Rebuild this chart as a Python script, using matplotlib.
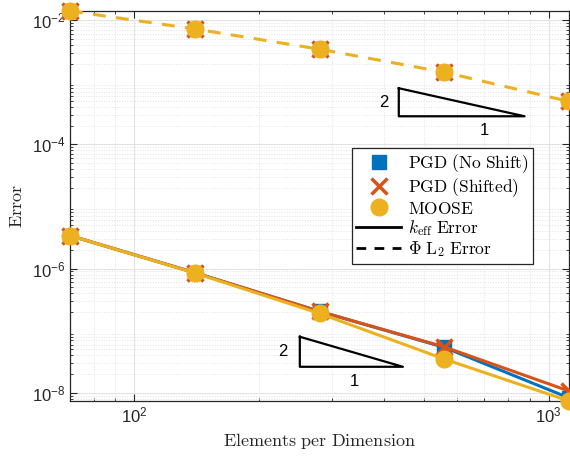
import matplotlib
matplotlib.use("Agg")
import matplotlib.pyplot as plt
from matplotlib.lines import Line2D
from matplotlib.ticker import LogLocator, NullFormatter

plt.rcParams["font.family"] = ["Liberation Sans", "DejaVu Sans"]
plt.rcParams["mathtext.fontset"] = "cm"

# Values.
elements = [70, 140, 280, 560, 1120]
keff_no_shift = [3.4e-6, 8.6e-7, 2.05e-7, 5.4e-8, 8.3e-9]
keff_shifted = [3.4e-6, 8.6e-7, 2.05e-7, 5.5e-8, 1.07e-8]
keff_moose = [3.4e-6, 8.5e-7, 1.9e-7, 3.5e-8, 7.4e-9]
phi_no_shift = [1.4e-2, 7.2e-3, 3.4e-3, 1.45e-3, 4.9e-4]
phi_shifted = [1.4e-2, 7.2e-3, 3.4e-3, 1.45e-3, 4.9e-4]
phi_moose = [1.4e-2, 7.2e-3, 3.4e-3, 1.45e-3, 4.9e-4]

blue = "#0072BD"
orange = "#D95319"
yellow = "#EDB120"
axis_col = "#262626"

fig = plt.figure(figsize=(5.7, 4.59), dpi=100)
ax = fig.add_axes([70 / 570, 1 - 401 / 459, 499 / 570, 390 / 459])

lw = 2.2
dash = (0, (4.2, 3.4))

# solid lines: k_eff error
ax.plot(elements, keff_no_shift, "-s", color=blue, lw=lw, ms=10, clip_on=False, zorder=3)
ax.plot(elements, keff_shifted, "-x", color=orange, lw=lw, ms=11, mew=2.5, clip_on=False, zorder=3)
ax.plot(elements, keff_moose, "-o", color=yellow, lw=lw, ms=12, clip_on=False, zorder=3)

# dashed lines: flux L2 error (all three coincide)
ax.plot(elements, phi_no_shift, marker="s", ls="none", color=blue, ms=10, clip_on=False, zorder=3)
ax.plot(elements, phi_shifted, marker="x", ls="none", color=orange, ms=11, mew=2.5, clip_on=False, zorder=3)
ax.plot(elements, phi_moose, color=yellow, ls=dash, lw=lw, zorder=3)
ax.plot(elements, phi_moose, marker="o", ls="none", color=yellow, ms=12, clip_on=False, zorder=4)

ax.set_xscale("log")
ax.set_yscale("log")
ax.set_xlim(min(elements), max(elements))
ax.set_ylim(min(keff_moose), max(phi_moose))

ax.xaxis.set_minor_locator(LogLocator(base=10, subs=range(2, 10), numticks=20))
ax.xaxis.set_minor_formatter(NullFormatter())
ax.yaxis.set_major_locator(LogLocator(base=10, subs=[1.0], numticks=20))
ax.yaxis.set_minor_locator(LogLocator(base=10, subs=range(2, 10), numticks=20))
ax.yaxis.set_minor_formatter(NullFormatter())
ax.set_yticks([1e-8, 1e-6, 1e-4, 1e-2])

ax.grid(True, which="major", color="#e2e2e2", lw=0.8, ls="-")
ax.grid(True, which="minor", color="#e2e2e2", lw=0.7, ls=":")
ax.set_axisbelow(True)

ax.tick_params(which="both", direction="in", top=True, right=True, colors=axis_col,
               labelsize=12)
ax.tick_params(which="major", length=5)
ax.tick_params(which="minor", length=2.5)
for s in ax.spines.values():
    s.set_color(axis_col)
    s.set_linewidth(0.9)

ax.set_xlabel(r"$\mathrm{Elements\ per\ Dimension}$", fontsize=13, color=axis_col, labelpad=4)
ax.set_ylabel(r"$\mathrm{Error}$", fontsize=13, color=axis_col, labelpad=4)

# slope triangles
tri_upper_x = [435, 435, 875, 435]
tri_upper_y = [8.0e-4, 2.83e-4, 2.83e-4, 8.0e-4]
tri_lower_x = [251, 251, 445, 251]
tri_lower_y = [8.0e-8, 2.63e-8, 2.63e-8, 8.0e-8]
ax.plot(tri_upper_x, tri_upper_y, color="black", lw=1.6, zorder=2)
ax.plot(tri_lower_x, tri_lower_y, color="black", lw=1.6, zorder=2)
ax.text(400, 4.7e-4, "2", fontsize=12, ha="center", va="center")
ax.text(700, 1.7e-4, "1", fontsize=12, ha="center", va="center")
ax.text(228, 4.6e-8, "2", fontsize=12, ha="center", va="center")
ax.text(340, 1.55e-8, "1", fontsize=12, ha="center", va="center")

handles = [
    Line2D([], [], ls="none", marker="s", color=blue, ms=10),
    Line2D([], [], ls="none", marker="x", color=orange, ms=11, mew=2.5),
    Line2D([], [], ls="none", marker="o", color=yellow, ms=12),
    Line2D([], [], ls="-", color="black", lw=2),
    Line2D([], [], ls=(0, (3.5, 3.0)), color="black", lw=2),
]
labels = [
    r"$\mathrm{PGD\ (No\ Shift)}$",
    r"$\mathrm{PGD\ (Shifted)}$",
    r"$\mathrm{MOOSE}$",
    r"$k_{\mathrm{eff}}\ \mathrm{Error}$",
    r"$\Phi\ \mathrm{L}_2\ \mathrm{Error}$",
]
leg = ax.legend(handles, labels, loc="upper left",
                bbox_to_anchor=(352 / 570, 1 - 148 / 459),
                bbox_transform=fig.transFigure,
                fontsize=12.5, frameon=True, fancybox=False,
                handlelength=2.6, handletextpad=0.4, labelspacing=0.08,
                borderpad=0.25, borderaxespad=0)
leg.get_frame().set_edgecolor(axis_col)
leg.get_frame().set_linewidth(0.9)
leg.get_frame().set_alpha(1)

fig.savefig("out.png", dpi=100)
